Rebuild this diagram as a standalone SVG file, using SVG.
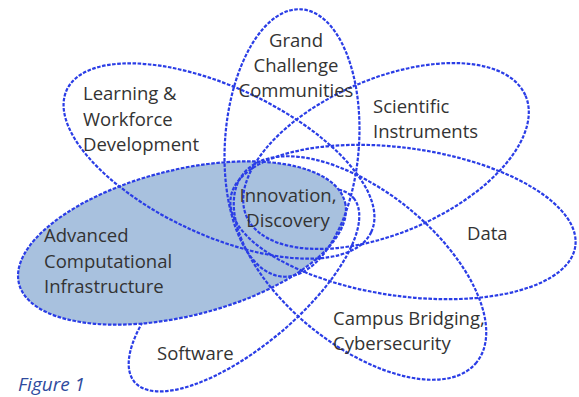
<svg xmlns="http://www.w3.org/2000/svg" width="579" height="397" viewBox="0 0 579 397">
<style>
.petal{fill:none;stroke:#2a3de6;stroke-width:2.2;stroke-dasharray:3.6 1.5}
.filled{fill:#a8c1de;stroke:#2a3de6;stroke-width:2.2;stroke-dasharray:3.6 1.5}
.lbl{font-family:"Open Sans","Liberation Sans",sans-serif;font-size:18.5px;fill:#333333}
.mid{text-anchor:middle}
.fig{font-family:"Open Sans","Liberation Sans",sans-serif;font-size:19px;font-style:italic;fill:#2f4b9e}
</style>
<rect width="579" height="397" fill="#ffffff"/>
<g id="software">
<ellipse class="petal" cx="244" cy="290" rx="143" ry="56" transform="rotate(-40 244 290)"/>
</g>
<g id="aci">
<ellipse class="filled" cx="182" cy="243" rx="168" ry="73" transform="rotate(-14 182 243)"/>
</g>
<g id="gcc">
<ellipse class="petal" cx="292" cy="143" rx="67" ry="134" transform="rotate(4 292 143)"/>
</g>
<g id="lwd">
<ellipse class="petal" cx="219" cy="161" rx="168" ry="74" transform="rotate(25 219 161)"/>
</g>
<g id="si">
<ellipse class="petal" cx="386" cy="156" rx="152" ry="77" transform="rotate(-23.4 386 156)"/>
</g>
<g id="data">
<ellipse class="petal" cx="403" cy="222" rx="174" ry="74" transform="rotate(8 403 222)"/>
</g>
<g id="cb">
<ellipse class="petal" cx="360" cy="268" rx="150" ry="77" transform="rotate(39 360 268)"/>
</g>
<g id="labels">
<text class="lbl mid" x="296" y="47">Grand</text>
<text class="lbl mid" x="296" y="72">Challenge</text>
<text class="lbl mid" x="296" y="97">Communities</text>
<text class="lbl" x="83" y="100">Learning &amp;</text>
<text class="lbl" x="83" y="126">Workforce</text>
<text class="lbl" x="83" y="151">Development</text>
<text class="lbl" x="373" y="113">Scientific</text>
<text class="lbl" x="373" y="138">Instruments</text>
<text class="lbl" x="467" y="240">Data</text>
<text class="lbl mid" x="288" y="202">Innovation,</text>
<text class="lbl mid" x="288" y="227">Discovery</text>
<text class="lbl" x="44" y="242">Advanced</text>
<text class="lbl" x="44" y="268">Computational</text>
<text class="lbl" x="44" y="293">Infrastructure</text>
<text class="lbl" x="157" y="360">Software</text>
<text class="lbl" x="333" y="325">Campus Bridging,</text>
<text class="lbl" x="333" y="350">Cybersecurity</text>
<text class="fig" x="18" y="391">Figure 1</text>
</g>
</svg>
